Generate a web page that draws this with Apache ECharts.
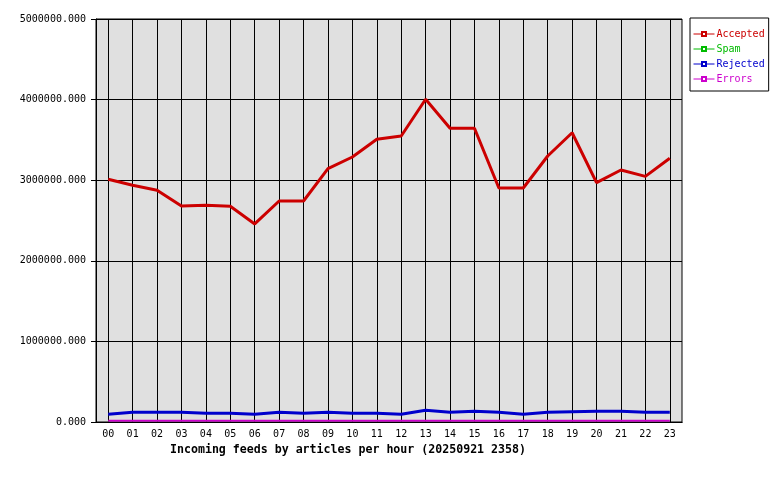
<!DOCTYPE html>
<html>
<head>
<meta charset="utf-8">
<script src="https://cdn.jsdelivr.net/npm/echarts@6/dist/echarts.min.js"></script>
<style>
  html, body { margin: 0; padding: 0; background: #fff; }
  #chart { width: 780px; height: 480px; }
</style>
</head>
<body>
<div id="chart"></div>
<script>
// hours of the day
const hours = ['00', '01', '02', '03', '04', '05', '06', '07', '08', '09', '10', '11',
  '12', '13', '14', '15', '16', '17', '18', '19', '20', '21', '22', '23']

// articles per hour
const accepted = [3011000, 2937000, 2875000, 2680000, 2689000, 2676000, 2457000, 2742000,
  2742000, 3143000, 3288000, 3507000, 3548000, 4004000, 3644000, 3644000, 2903000, 2903000,
  3300000, 3589000, 2969000, 3127000, 3048000, 3272000]
const spam = [0, 0, 0, 0, 0, 0, 0, 0, 0, 0, 0, 0, 0, 0, 0, 0, 0, 0, 0, 0, 0, 0, 0, 0]
const rejected = [96000, 120000, 120000, 120000, 108000, 108000, 96000, 120000,
  108000, 120000, 108000, 108000, 96000, 145000, 120000, 133000, 120000, 96000,
  120000, 128000, 133000, 133000, 120000, 120000]
const errors = [15000, 15000, 15000, 15000, 15000, 15000, 15000, 15000, 15000, 15000, 15000, 15000,
  15000, 15000, 15000, 15000, 15000, 15000, 15000, 15000, 15000, 15000, 15000, 15000]

const FONT = '"DejaVu Sans Mono", monospace'

function mkSeries(name, data, color, width, z) {
  return {
    name: name,
    type: 'line',
    data: data,
    z: z,
    symbol: 'emptyRect',
    showSymbol: false,
    animation: false,
    lineStyle: { color: color, width: width },
    itemStyle: { color: color, borderColor: color },
  }
}

let chart = echarts.init(document.getElementById('chart'))
chart.setOption({
  backgroundColor: '#fff',
  animation: false,
  title: {
    text: 'Incoming feeds by articles per hour (20250921 2358)',
    left: 170,
    top: 444,
    padding: 0,
    textStyle: { fontFamily: FONT, fontSize: 11.6, fontWeight: 'bold', color: '#000' },
  },
  legend: {
    orient: 'vertical',
    left: 690,
    top: 18,
    padding: [11, 4, 7, 3],
    itemWidth: 21,
    itemHeight: 5,
    itemGap: 5,
    backgroundColor: '#fff',
    borderColor: '#000',
    borderWidth: 1,
    borderRadius: 0,
    lineStyle: { width: 1 },
    itemStyle: { borderWidth: 1 },
    data: [
      { name: 'Accepted', textStyle: { color: '#cc0000' } },
      { name: 'Spam', textStyle: { color: '#00bb00' } },
      { name: 'Rejected', textStyle: { color: '#0000cc' } },
      { name: 'Errors', textStyle: { color: '#cc00cc' } },
    ],
    textStyle: { fontFamily: FONT, fontSize: 10, padding: [0, 0, 0, -3] },
  },
  grid: {
    left: 96,
    right: 98,
    top: 19,
    bottom: 58,
    show: true,
    backgroundColor: '#e0e0e0',
    borderColor: '#000',
    borderWidth: 1,
  },
  xAxis: [
    {
      type: 'category',
      data: hours,
      boundaryGap: true,
      axisLine: { lineStyle: { color: '#000', width: 1 } },
      axisTick: { alignWithLabel: true, length: 5, lineStyle: { color: '#000' } },
      axisLabel: { color: '#000', fontFamily: FONT, fontSize: 10, margin: 7 },
      splitLine: { show: true, alignWithLabel: true, lineStyle: { color: '#000', width: 1 } },
    },
    {
      // bottom axis line drawn again above the series
      type: 'category',
      data: hours,
      position: 'bottom',
      z: 10,
      axisLine: { lineStyle: { color: '#000', width: 1 } },
      axisTick: { show: false },
      axisLabel: { show: false },
      splitLine: { show: false },
    },
  ],
  yAxis: {
    type: 'value',
    min: 0,
    max: 5000000,
    interval: 1000000,
    axisLine: { show: true, lineStyle: { color: '#000', width: 1 } },
    axisTick: { show: true, length: 5, lineStyle: { color: '#000' } },
    axisLabel: {
      color: '#000',
      fontFamily: FONT,
      fontSize: 10,
      margin: 10,
      formatter: (v) => v.toFixed(3),
    },
    splitLine: { show: true, lineStyle: { color: '#000', width: 1 } },
  },
  series: [
    mkSeries('Accepted', accepted, '#cc0000', 3, 2),
    mkSeries('Spam', spam, '#00bb00', 1, 2),
    mkSeries('Rejected', rejected, '#0000cc', 3, 3),
    mkSeries('Errors', errors, '#cc00cc', 2, 4),
  ],
})
window.addEventListener('resize', () => {
  chart.resize()
})
</script>
</body>
</html>
